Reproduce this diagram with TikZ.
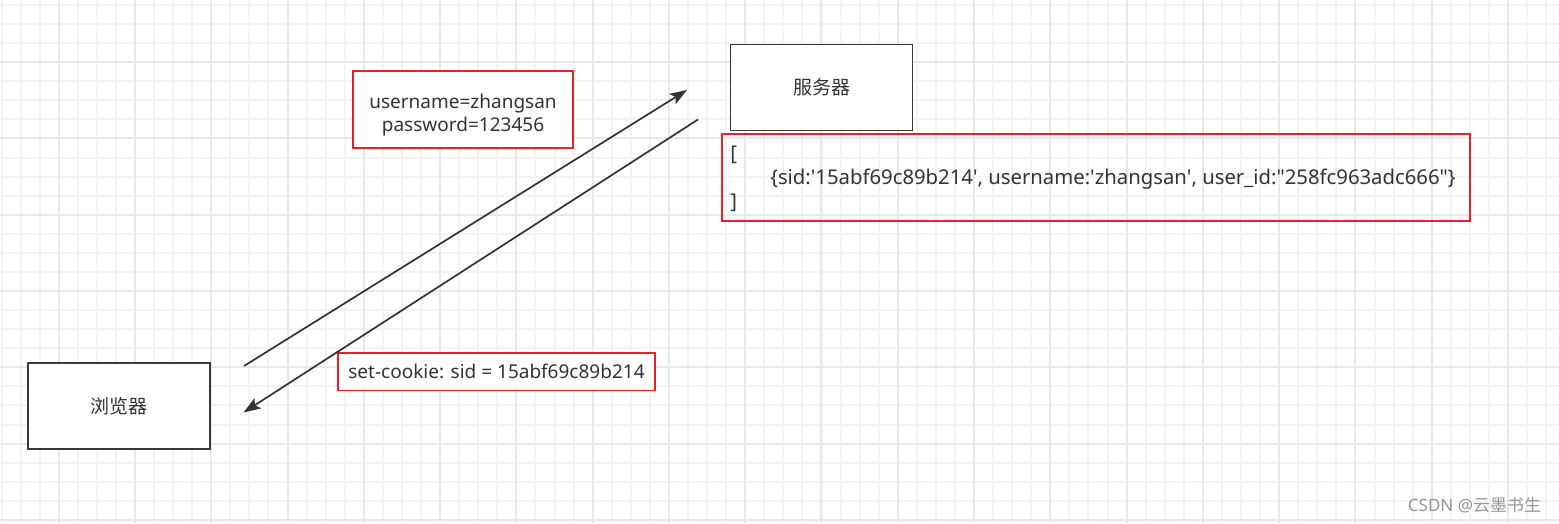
\documentclass[tikz,border=0pt]{standalone}
\usepackage{fontspec}
\setmainfont{Noto Sans}
\newfontfamily\cjk{Noto Sans CJK SC}
\usetikzlibrary{arrows.meta}
\definecolor{gridminor}{RGB}{243,243,243}
\definecolor{gridmajor}{RGB}{232,232,232}
\definecolor{boxline}{RGB}{54,57,61}
\definecolor{redline}{RGB}{236,32,42}
\definecolor{txt}{RGB}{51,51,51}
\definecolor{wm}{RGB}{150,150,150}
\tikzset{
  minorline/.style={draw=gridminor, line width=2pt},
  majorline/.style={draw=gridmajor, line width=2pt},
  plainbox/.style={draw=boxline, line width=1.9pt, fill=white, minimum width=182pt, minimum height=86pt, inner sep=0pt, text=txt, font=\cjk\fontsize{19}{23}\selectfont},
  redbox/.style={draw=redline, line width=1.8pt, inner sep=0pt},
  boxtext/.style={inner sep=0pt, text=txt, font=\fontsize{19}{23}\selectfont},
  flow/.style={draw=txt, line width=1.7pt, -{Stealth[length=17pt,width=12pt,inset=3.5pt]}},
  wmtext/.style={text=wm, inner sep=0pt, font=\fontsize{17}{19}\selectfont}
}
\begin{document}
\begin{tikzpicture}[x=1pt,y=-1pt]
\useasboundingbox (0,0) rectangle (1559,523);
\fill[white] (0,0) rectangle (1559,523);
% grid
\foreach \i in {0,...,81} {
  \pgfmathsetmacro\xx{round(1.5+19.07*\i)}
  \draw[minorline] (\xx,0) -- (\xx,523);
}
\foreach \j in {0,...,27} {
  \pgfmathsetmacro\yy{round(5.0+19.07*\j)}
  \draw[minorline] (0,\yy) -- (1559,\yy);
}
\foreach \k in {0,...,19} {
  \pgfmathsetmacro\xx{round(58.7+76.28*\k)}
  \draw[majorline] (\xx,0) -- (\xx,523);
}
\foreach \k in {0,...,6} {
  \pgfmathsetmacro\yy{round(62.2+76.28*\k)}
  \draw[majorline] (0,\yy) -- (1559,\yy);
}
% boxes
\node[plainbox] (browser) at (119,406) {浏览器};
\node[plainbox] (server) at (821.5,87.5) {服务器};
\node[redbox, fill=white, minimum width=220pt, minimum height=77pt] (login) at (463,109.5) {};
\node[boxtext, align=center] (logintext) at ([yshift=-6pt]login.center) {username=zhangsan\\password=123456};
\node[redbox, minimum width=748pt, minimum height=87pt] (session) at (1096,177.5) {};
\node[boxtext, anchor=west, align=left, font=\fontsize{20.3}{24}\selectfont] (sessiontext) at ([xshift=9pt,yshift=-1.5pt]session.west)
  {[\\\hspace*{40pt}\{sid:\textquotesingle 15abf69c89b214\textquotesingle, username:\textquotesingle zhangsan\textquotesingle, user\_id:\textquotedbl 258fc963adc666\textquotedbl\}\\]};
\node[redbox, fill=white, minimum width=317pt, minimum height=37.5pt] (cookie) at (496.5,371.7) {};
\node[boxtext] (cookietext) at ([yshift=0.5pt]cookie.center) {set-cookie: sid = 15abf69c89b214};
% arrows
\coordinate (a1s) at (244,366);
\coordinate (a1e) at (687,90);
\coordinate (a2s) at (698,119.5);
\coordinate (a2e) at (243.5,412.5);
\draw[flow] (a1s) -- (a1e);
\draw[flow] (a2s) -- (a2e);
% watermark
\node[wmtext] (mark) at (1474.5,505) {CSDN @{\cjk 云墨书生}};
\end{tikzpicture}
\end{document}
